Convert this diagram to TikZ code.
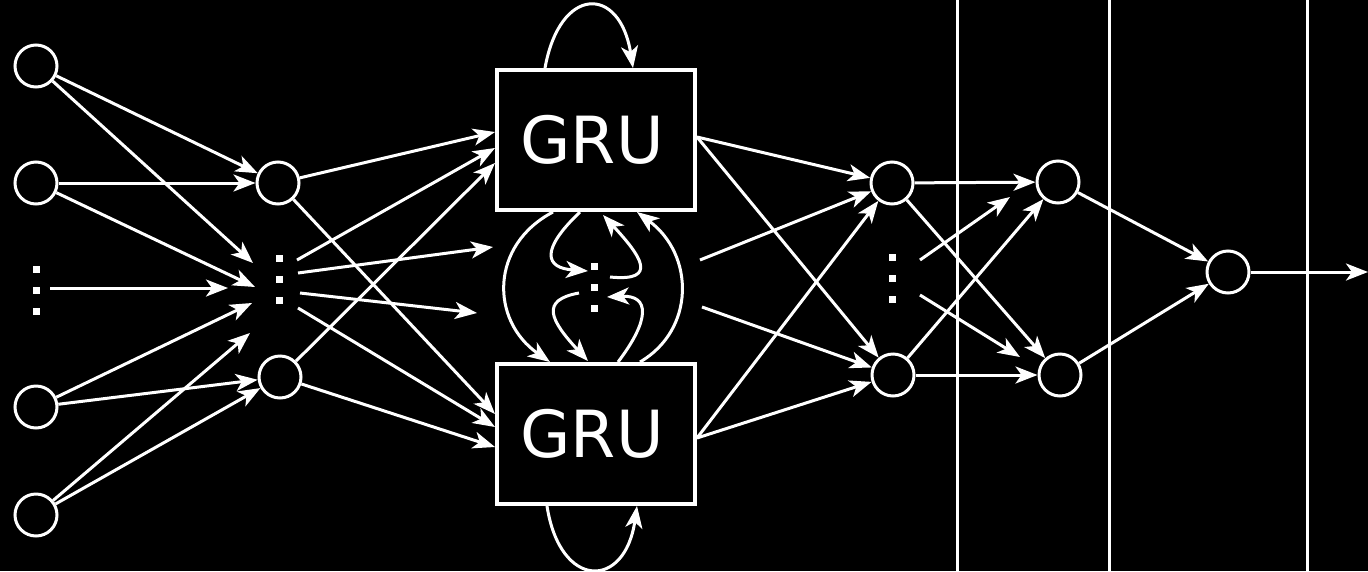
\documentclass[tikz,border=0pt]{standalone}
\usepackage{fontspec}
\setmainfont{DejaVu Sans}
\usetikzlibrary{arrows.meta,calc}
\tikzset{
  stackdots/.pic={\foreach \d in {-21,0,21} \fill[white] (-3.5,\d-3.5) rectangle ++(7,7);}
}
\begin{document}
\begin{tikzpicture}[x=1pt,y=-1pt,
  neuron/.style={circle,draw=white,line width=3pt,minimum size=42pt,inner sep=0pt},
  grubox/.style={rectangle,draw=white,line width=4pt,minimum width=198pt,minimum height=140pt,
    inner sep=0pt,text=white,font=\fontsize{65}{78}\selectfont},
  dotsnode/.style={inner sep=0pt,minimum size=2pt},
  link/.style={draw=white,line width=3pt,-{Stealth[length=22pt,width=17pt,inset=6pt]}},
  divider/.style={draw=white,line width=3pt}
]
\useasboundingbox (0,0) rectangle (1368,571);
\fill[black] (0,0) rectangle (1368,571);

% layer separators
\draw[divider] (957,0) -- (957,571);
\draw[divider] (1109,0) -- (1109,571);
\draw[divider] (1307,0) -- (1307,571);

% input layer
\node[neuron] (i1) at (36,66) {};
\node[neuron] (i2) at (36,183) {};
\node[dotsnode] (id) at (36,290) {};
\node[neuron] (i3) at (36,407) {};
\node[neuron] (i4) at (36,515) {};

% first hidden layer
\node[neuron] (h1) at (278,183) {};
\node[dotsnode] (hd) at (279,279) {};
\node[neuron] (h3) at (280,377) {};

% recurrent units
\node[grubox] (gt) at (596,140) {\hspace*{-8pt}GRU};
\node[dotsnode] (gd) at (594,287) {};
\node[grubox] (gb) at (596,434) {\hspace*{-8pt}GRU};

% dense layers
\node[neuron] (h2a) at (892,183) {};
\node[dotsnode] (h2d) at (892,278) {};
\node[neuron] (h2b) at (893,375) {};
\node[neuron] (h3a) at (1058,182) {};
\node[neuron] (h3b) at (1060,375) {};
\node[neuron] (o) at (1228,272) {};
\coordinate (oend) at (1368,272);

\pic at (id) {stackdots};
\pic at (hd) {stackdots};
\pic at (gd) {stackdots};
\pic at (h2d) {stackdots};

% input -> first hidden
\draw[link] (i1) -- (h1);
\draw[link] (i1) -- ($(hd)+(-26,-16)$);
\draw[link] (i2) -- (h1);
\draw[link] (i2) -- ($(hd)+(-24,8)$);
\draw[link] ($(id)+(14,-2)$) -- ($(id)+(192,-2)$);
\draw[link] (i3) -- ($(hd)+(-27,24)$);
\draw[link] (i3) -- (h3);
\draw[link] (i4) -- ($(hd)+(-29,54)$);
\draw[link] (i4) -- (h3);

% first hidden -> GRU
\draw[link] (h1) -- ($(gt.west)+(0,-8)$);
\draw[link] (h1) -- ($(gb.west)+(0,-20)$);
\draw[link] ($(hd)+(18,-19)$) -- ($(gt.west)+(0,8)$);
\draw[link] ($(hd)+(19,-6)$) -- ($(gd)+(-101,-40)$);
\draw[link] ($(hd)+(21,14)$) -- ($(gd)+(-117,26)$);
\draw[link] ($(hd)+(19,29)$) -- ($(gb.west)+(0,-7)$);
\draw[link] (h3) -- ($(gt.west)+(0,23)$);
\draw[link] (h3) -- ($(gb.west)+(0,13)$);

% self loops
\draw[link] ($(gt.north)+(-51,0)$) .. controls (560,-15) and (620,-15) .. ($(gt.north)+(37,0)$);
\draw[link] ($(gb.south)+(-49,0)$) .. controls (560,590) and (625,590) .. ($(gb.south)+(41,0)$);

% connections between the GRU units
\draw[link] ($(gt.south)+(-43,0)$) .. controls (490,245) and (490,320) .. ($(gb.north)+(-46,0)$);
\draw[link] ($(gb.north)+(44,0)$) .. controls (695,330) and (695,255) .. ($(gt.south)+(41,0)$);
\draw[link] ($(gt.south)+(-16,0)$) .. controls (540,250) and (545,268) .. ($(gd)+(-6,-16)$);
\draw[link] ($(gd)+(16,-10)$) .. controls (660,282) and (640,255) .. ($(gt.south)+(7,3)$);
\draw[link] ($(gd)+(-15,6)$) .. controls (540,300) and (550,320) .. ($(gb.north)+(-8,-1)$);
\draw[link] ($(gb.north)+(22,0)$) .. controls (650,320) and (650,295) .. ($(gd)+(13,10)$);

% GRU -> second hidden
\draw[link] ($(gt.east)+(0,-3)$) -- (h2a);
\draw[link] ($(gt.east)+(0,-3)$) -- (h2b);
\draw[link] ($(gd)+(106,-27)$) -- (h2a);
\draw[link] ($(gd)+(108,20)$) -- (h2b);
\draw[link] ($(gb.east)+(0,4)$) -- (h2a);
\draw[link] ($(gb.east)+(0,4)$) -- (h2b);

% second hidden -> third hidden
\draw[link] (h2a) -- (h3a);
\draw[link] (h2a) -- (h3b);
\draw[link] ($(h2d)+(28,-18)$) -- ($(h2d)+(118,-81)$);
\draw[link] ($(h2d)+(28,17)$) -- ($(h2d)+(128,79)$);
\draw[link] (h2b) -- (h3a);
\draw[link] (h2b) -- (h3b);

% output
\draw[link] (h3a) -- (o);
\draw[link] (h3b) -- (o);
\draw[link] (o) -- (oend);
\end{tikzpicture}
\end{document}
